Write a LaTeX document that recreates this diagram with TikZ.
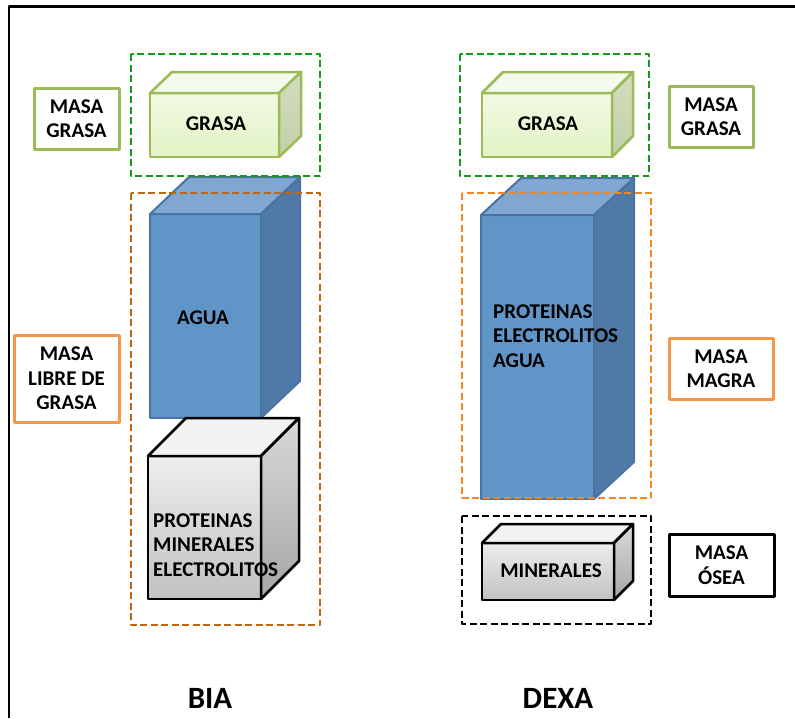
\documentclass[tikz,border=0pt]{standalone}
\usepackage{fontspec}
\setmainfont{Carlito}
\usetikzlibrary{positioning}

\definecolor{verdeborde}{HTML}{9BBB59}
\definecolor{verdetrazo}{HTML}{17991A}
\definecolor{naranjaosc}{HTML}{C0660F}
\definecolor{naranja}{HTML}{F5861F}
\definecolor{naranjaborde}{HTML}{F79646}
\definecolor{azul}{HTML}{6095C8}
\definecolor{azultapa}{HTML}{80A7D1}
\definecolor{azullado}{HTML}{4F79A7}
\definecolor{azulborde}{HTML}{4A73A2}
\definecolor{verdeclaro}{HTML}{F2F9E4}
\definecolor{verdemedio}{HTML}{E2F3C4}
\definecolor{verdetapa}{HTML}{F4FAEC}
\definecolor{verdelado}{HTML}{D3DDBF}
\definecolor{verdeladoosc}{HTML}{C3CFAA}

% caja 3D: frente (#1,#2)-(#3,#4), fondo (#5,#6), estilo #7
\newcommand{\cubo}[7]{%
  \draw[#7 frente] (#1,#2) rectangle (#3,#4);
  \draw[#7 tapa] (#1,#2) -- ++(#5,-#6) -- ({#3+#5},{#2-#6}) -- (#3,#2) -- cycle;
  \draw[#7 lado] (#3,#2) -- ({#3+#5},{#2-#6}) -- ({#3+#5},{#4-#6}) -- (#3,#4) -- cycle;
}

\tikzset{
  etiqueta/.style={draw, line width=3pt, fill=white, align=center, inner sep=0pt},
  marco/.style={line width=2.5pt, dash pattern=on 7pt off 3.5pt},
  texto/.style={inner sep=0pt, align=left},
  grasa frente/.style={draw=verdeborde, line width=2.5pt, top color=verdeclaro, bottom color=verdemedio},
  grasa tapa/.style={draw=verdeborde, line width=2.5pt, fill=verdetapa},
  grasa lado/.style={draw=verdeborde, line width=2.5pt, top color=verdelado, bottom color=verdeladoosc},
  agua frente/.style={draw=azulborde, line width=2pt, fill=azul},
  agua tapa/.style={draw=azulborde, line width=2pt, fill=azultapa},
  agua lado/.style={draw=azulborde, line width=2pt, fill=azullado},
  gris frente/.style={draw=black, line width=2.5pt, top color=black!7, bottom color=black!24},
  gris tapa/.style={draw=black, line width=2.5pt, fill=black!5},
  gris lado/.style={draw=black, line width=2.5pt, top color=black!15, bottom color=black!35},
}

\begin{document}
\begin{tikzpicture}[x=1pt, y=-1pt, line join=round, font=\fontsize{21}{24.5}\selectfont\bfseries]
\useasboundingbox (0,0) rectangle (795,718);

% marco exterior
\draw[line width=2.2pt] (9,718) -- (9,6.5) -- (795,6.5);

% columna BIA
\cubo{150}{214}{261}{418}{39}{37}{agua}
\cubo{148}{456}{261}{599}{38}{38}{gris}
\cubo{150}{93}{279}{157}{22}{21}{grasa}

% columna DEXA
\cubo{481}{215}{594}{499}{40}{37}{agua}
\cubo{482}{543}{614}{600}{19}{19}{gris}
\cubo{482}{93}{612}{157}{21}{21}{grasa}

% marcos punteados
\foreach \c/\xa/\ya/\xb/\yb in {verdetrazo/131/54/320/176, naranjaosc/131/193/320/625,
    verdetrazo/460/54/649/176, naranja/462/193/651/498, black/462/516/651/624}
  \draw[marco, draw=\c] (\xa,\ya) rectangle (\xb,\yb);

% textos de las cajas
\node[texto] (grasaI) at (216,124) {GRASA};
\node[texto] (aguaI) at (203,318) {AGUA};
\node[texto, anchor=west] (restoI) at (153,545) {PROTEINAS\\MINERALES\\ELECTROLITOS};
\node[texto] (grasaD) at (548,124) {GRASA};
\node[texto, anchor=west] (magraD) at (493,336) {PROTEINAS\\ELECTROLITOS\\AGUA};
\node[texto] (mineralD) at (551,571) {MINERALES};

% etiquetas laterales
\node[etiqueta, draw=verdeborde, minimum width=85pt, minimum height=61pt] (mgI) at (76.5,118.5) {MASA\\GRASA};
\node[etiqueta, draw=naranjaborde, minimum width=105pt, minimum height=87pt] (mlgI) at (66.5,378.5) {MASA\\LIBRE DE\\GRASA};
\node[etiqueta, draw=verdeborde, minimum width=84pt, minimum height=61pt] (mgD) at (711,116.5) {MASA\\GRASA};
\node[etiqueta, draw=naranjaborde, minimum width=104pt, minimum height=61pt] (mmD) at (721,368.5) {MASA\\MAGRA};
\node[etiqueta, draw=black, minimum width=105pt, minimum height=62pt] (moD) at (721.5,565) {MASA\\ÓSEA};

% titulos
\node[font=\fontsize{31}{36}\selectfont\bfseries] (bia) at (210,698) {BIA};
\node[font=\fontsize{31}{36}\selectfont\bfseries] (dexa) at (558,698) {DEXA};
\end{tikzpicture}
\end{document}
